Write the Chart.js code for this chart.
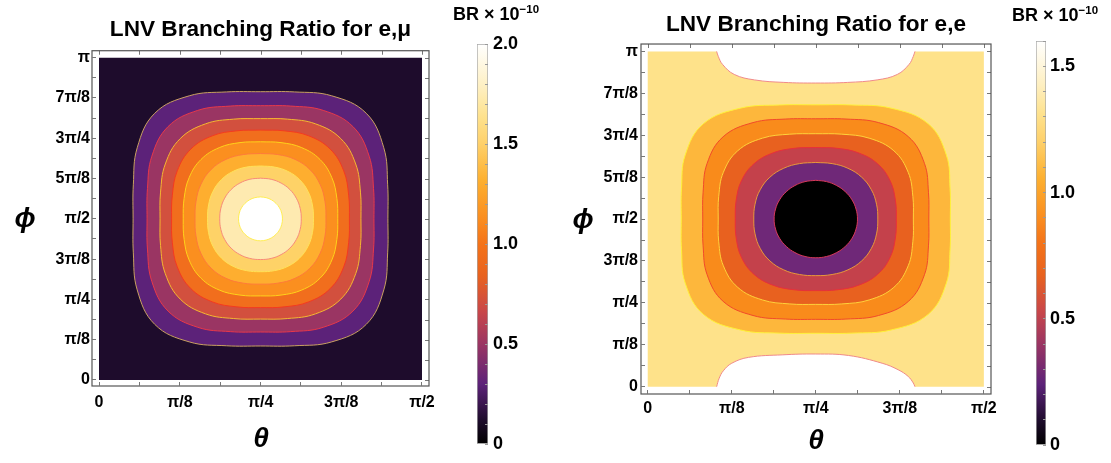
<!DOCTYPE html>
<html>
<head>
<meta charset="utf-8">
<script src="https://cdn.jsdelivr.net/npm/chart.js@4.4.1/dist/chart.umd.min.js"></script>
<style>
  body { margin: 0; background: #fff; }
  #page { position: relative; width: 1111px; height: 463px; overflow: hidden; font-family: "Liberation Sans", Arial, sans-serif; }
  canvas { position: absolute; }
  .txt { position: absolute; transform: translate(-50%, -50%); font-weight: bold; white-space: nowrap; color: #000; }
  .axis { font-size: 28px; font-style: italic; }
  .br { font-size: 18px; }
  .br sup { font-size: 11.5px; }
</style>
</head>
<body>
<div id="page">
  <canvas id="emu" width="450" height="463" style="left:0;top:0"></canvas>
  <canvas id="emuBar" width="88" height="463" style="left:440px;top:0"></canvas>
  <canvas id="ee" width="463" height="463" style="left:549px;top:0"></canvas>
  <canvas id="eeBar" width="86" height="463" style="left:1000px;top:0"></canvas>
  <div class="txt axis" style="left:261px;top:438px">θ</div>
  <div class="txt axis" style="left:25px;top:218px">ϕ</div>
  <div class="txt axis" style="left:816px;top:440px">θ</div>
  <div class="txt axis" style="left:583px;top:219px">ϕ</div>
  <div class="txt br" style="left:496px;top:14px">BR × 10<sup>−10</sup></div>
  <div class="txt br" style="left:1055px;top:15px">BR × 10<sup>−10</sup></div>
</div>
<script>
// axes: theta and phi in units of pi/8
thetaTicks = [0, 0.5, 1, 1.5, 2, 2.5, 3, 3.5, 4];
thetaLabels = ['0', '', 'π/8', '', 'π/4', '', '3π/8', '', 'π/2'];
phiTicks = [0, 0.5, 1, 1.5, 2, 2.5, 3, 3.5, 4, 4.5, 5, 5.5, 6, 6.5, 7, 7.5, 8];
phiLabels = ['0', '', 'π/8', '', 'π/4', '', '3π/8', '', 'π/2', '', '5π/8', '', '3π/4', '', '7π/8', '', 'π'];
domain = [[0, 0], [4, 0], [4, 8], [0, 8], [0, 0]];

// e,mu contours, outermost (BR = 0.2) to innermost (BR = 1.8), [theta, phi]
emu1 = [[2,7.156],[2.422,7.150],[2.882,7.054],[3.310,6.620],[3.527,5.764],[3.575,4.844],[3.578,4],[3.575,3.156],[3.527,2.236],[3.310,1.381],[2.882,0.946],[2.422,0.850],[2,0.844],[1.578,0.850],[1.118,0.946],[0.690,1.381],[0.473,2.236],[0.425,3.156],[0.422,4],[0.425,4.844],[0.473,5.764],[0.690,6.620],[1.118,7.054],[1.578,7.150]];
emu2 = [[2,6.809],[2.375,6.799],[2.777,6.692],[3.145,6.289],[3.346,5.554],[3.400,4.750],[3.405,4],[3.400,3.250],[3.346,2.446],[3.145,1.711],[2.777,1.308],[2.375,1.201],[2,1.191],[1.625,1.201],[1.223,1.308],[0.855,1.711],[0.654,2.446],[0.600,3.250],[0.595,4],[0.600,4.750],[0.654,5.554],[0.855,6.289],[1.223,6.692],[1.625,6.799]];
emu3 = [[2,6.488],[2.332,6.475],[2.681,6.358],[2.995,5.990],[3.179,5.362],[3.238,4.663],[3.244,4],[3.238,3.337],[3.179,2.638],[2.995,2.010],[2.681,1.642],[2.332,1.525],[2,1.512],[1.668,1.525],[1.319,1.642],[1.005,2.010],[0.821,2.638],[0.762,3.337],[0.756,4],[0.762,4.663],[0.821,5.362],[1.005,5.990],[1.319,6.358],[1.668,6.475]];
emu4 = [[2,6.203],[2.293,6.185],[2.595,6.062],[2.864,5.729],[3.031,5.191],[3.092,4.586],[3.101,4],[3.092,3.414],[3.031,2.809],[2.864,2.271],[2.595,1.938],[2.293,1.815],[2,1.797],[1.707,1.815],[1.405,1.938],[1.136,2.271],[0.969,2.809],[0.908,3.414],[0.899,4],[0.908,4.586],[0.969,5.191],[1.136,5.729],[1.405,6.062],[1.707,6.185]];
emu5 = [[2,5.913],[2.254,5.892],[2.511,5.767],[2.737,5.473],[2.884,5.021],[2.946,4.507],[2.957,4],[2.946,3.493],[2.884,2.979],[2.737,2.527],[2.511,2.233],[2.254,2.108],[2,2.087],[1.746,2.108],[1.489,2.233],[1.263,2.527],[1.116,2.979],[1.054,3.493],[1.043,4],[1.054,4.507],[1.116,5.021],[1.263,5.473],[1.489,5.767],[1.746,5.892]];
emu6 = [[2,5.621],[2.214,5.596],[2.427,5.477],[2.612,5.224],[2.739,4.853],[2.799,4.428],[2.811,4],[2.799,3.572],[2.739,3.147],[2.612,2.776],[2.427,2.523],[2.214,2.404],[2,2.379],[1.786,2.404],[1.573,2.523],[1.388,2.776],[1.261,3.147],[1.201,3.572],[1.189,4],[1.201,4.428],[1.261,4.853],[1.388,5.224],[1.573,5.477],[1.786,5.596]];
emu7 = [[2,5.312],[2.172,5.285],[2.340,5.177],[2.485,4.971],[2.589,4.680],[2.643,4.344],[2.656,4],[2.643,3.656],[2.589,3.320],[2.485,3.029],[2.340,2.823],[2.172,2.715],[2,2.688],[1.828,2.715],[1.660,2.823],[1.515,3.029],[1.411,3.320],[1.357,3.656],[1.344,4],[1.357,4.344],[1.411,4.680],[1.515,4.971],[1.660,5.177],[1.828,5.285]];
emu8 = [[2,5.010],[2.132,4.982],[2.256,4.887],[2.364,4.727],[2.444,4.512],[2.491,4.263],[2.505,4],[2.491,3.737],[2.444,3.488],[2.364,3.273],[2.256,3.113],[2.132,3.018],[2,2.990],[1.868,3.018],[1.744,3.113],[1.636,3.273],[1.556,3.488],[1.509,3.737],[1.495,4],[1.509,4.263],[1.556,4.512],[1.636,4.727],[1.744,4.887],[1.868,4.982]];
emu9 = [[2,4.545],[2.070,4.526],[2.136,4.472],[2.192,4.385],[2.236,4.273],[2.263,4.141],[2.272,4],[2.263,3.859],[2.236,3.727],[2.192,3.615],[2.136,3.528],[2.070,3.474],[2,3.455],[1.930,3.474],[1.864,3.528],[1.808,3.615],[1.764,3.727],[1.737,3.859],[1.728,4],[1.737,4.141],[1.764,4.273],[1.808,4.385],[1.864,4.472],[1.930,4.526]];

// e,e contours, outermost (BR = 1.2) to innermost (BR = 0.2)
ee1 = [[2,6.726],[2.428,6.722],[2.897,6.646],[3.337,6.276],[3.554,5.528],[3.598,4.729],[3.601,4],[3.598,3.271],[3.554,2.472],[3.337,1.724],[2.897,1.354],[2.428,1.278],[2,1.274],[1.572,1.278],[1.103,1.354],[0.663,1.724],[0.446,2.472],[0.402,3.271],[0.399,4],[0.402,4.729],[0.446,5.528],[0.663,6.276],[1.103,6.646],[1.572,6.722]];
ee2 = [[2,6.393],[2.359,6.386],[2.747,6.301],[3.103,5.962],[3.293,5.328],[3.341,4.639],[3.345,4],[3.341,3.361],[3.293,2.672],[3.103,2.038],[2.747,1.699],[2.359,1.614],[2,1.607],[1.641,1.614],[1.253,1.699],[0.897,2.038],[0.707,2.672],[0.659,3.361],[0.655,4],[0.659,4.639],[0.707,5.328],[0.897,5.962],[1.253,6.301],[1.641,6.386]];
ee3 = [[2,6.036],[2.309,6.025],[2.635,5.930],[2.929,5.629],[3.100,5.114],[3.155,4.543],[3.161,4],[3.155,3.457],[3.100,2.886],[2.929,2.371],[2.635,2.070],[2.309,1.975],[2,1.964],[1.691,1.975],[1.365,2.070],[1.071,2.371],[0.900,2.886],[0.845,3.457],[0.839,4],[0.845,4.543],[0.900,5.114],[1.071,5.629],[1.365,5.930],[1.691,6.025]];
ee4 = [[2,5.707],[2.254,5.688],[2.511,5.577],[2.738,5.314],[2.885,4.911],[2.947,4.452],[2.958,4],[2.947,3.548],[2.885,3.089],[2.738,2.686],[2.511,2.423],[2.254,2.312],[2,2.293],[1.746,2.312],[1.489,2.423],[1.262,2.686],[1.115,3.089],[1.053,3.548],[1.042,4],[1.053,4.452],[1.115,4.911],[1.262,5.314],[1.489,5.577],[1.746,5.688]];
ee5 = [[2,5.350],[2.194,5.323],[2.382,5.212],[2.546,4.999],[2.662,4.699],[2.723,4.354],[2.738,4],[2.723,3.646],[2.662,3.301],[2.546,3.001],[2.382,2.788],[2.194,2.677],[2,2.650],[1.806,2.677],[1.618,2.788],[1.454,3.001],[1.338,3.301],[1.277,3.646],[1.262,4],[1.277,4.354],[1.338,4.699],[1.454,4.999],[1.618,5.212],[1.806,5.323]];
ee6 = [[2,4.924],[2.128,4.893],[2.248,4.800],[2.351,4.653],[2.430,4.462],[2.479,4.239],[2.496,4],[2.479,3.761],[2.430,3.538],[2.351,3.347],[2.248,3.200],[2.128,3.107],[2,3.076],[1.872,3.107],[1.752,3.200],[1.649,3.347],[1.570,3.538],[1.521,3.761],[1.504,4],[1.521,4.239],[1.570,4.462],[1.649,4.653],[1.752,4.800],[1.872,4.893]];
// BR = 1.4 caps touching phi = pi and phi = 0
eeTopCap = [[0.82,8],[0.84,7.88],[0.89,7.69],[1.03,7.45],[1.27,7.32],[1.62,7.26],[2,7.245],[2.38,7.26],[2.73,7.32],[2.97,7.45],[3.11,7.69],[3.16,7.88],[3.18,8]];
eeBottomCap = [[0.82,0],[0.85,0.2],[0.90,0.38],[1.0,0.56],[1.2,0.70],[1.6,0.76],[2,0.78],[2.39,0.745],[2.79,0.56],[2.98,0.405],[3.10,0.245],[3.16,0.09],[3.18,0]];

// colour bars
emuBarTicks = [0,0.1,0.2,0.3,0.4,0.5,0.6,0.7,0.8,0.9,1,1.1,1.2,1.3,1.4,1.5,1.6,1.7,1.8,1.9,2];
emuBarMajor = [0, 0.5, 1, 1.5, 2];
emuBarLabels = ['0', '0.5', '1.0', '1.5', '2.0'];
eeBarTicks = [0,0.1,0.2,0.3,0.4,0.5,0.6,0.7,0.8,0.9,1,1.1,1.2,1.3,1.4,1.5,1.6];
eeBarMajor = [0, 0.5, 1, 1.5];
eeBarLabels = ['0', '0.5', '1.0', '1.5'];

// styles
emuFills = ['#5c2279', '#9a3563', '#d2503e', '#f16e1d', '#fb8f1f', '#feae2f', '#fed267', '#feeab0', '#ffffff'];
emuLines = ['#c8a060', '#e8384a', '#f5b830', '#f43a20', '#ffd21a', '#ff7a3a', '#ffe25a', '#f88a7a', '#ffee55'];
eeFills = ['#fdb73c', '#f98b1b', '#e8611f', '#c4414b', '#6f2878', '#000000'];
eeLines = ['#fff23a', '#f24a2a', '#ffd23a', '#e8303a', '#e8983a', '#d83a5a'];
sunsetStops = [[0, '#000000'], [0.06, '#1e0c2c'], [0.15, '#5c2279'], [0.25, '#9a3563'], [0.33, '#c8464a'], [0.42, '#e8621f'],
  [0.5, '#f47319'], [0.56, '#fa8c1f'], [0.66, '#fdb030'], [0.75, '#fed06a'], [0.82, '#fee28e'], [0.89, '#feefc0'], [1, '#ffffff']];
fontFamily = '"Liberation Sans", Arial, sans-serif';

framePlugin = {
    id: 'frame',
    afterDatasetsDraw(chart) {
        var ctx = chart.ctx, a = chart.chartArea, sx = chart.scales.x, sy = chart.scales.y;
        ctx.save();
        ctx.strokeStyle = '#777';
        ctx.lineWidth = 1;
        thetaTicks.forEach(v => {
            var x = Math.round(sx.getPixelForValue(v)) + 0.5;
            ctx.beginPath(); ctx.moveTo(x, a.top); ctx.lineTo(x, a.top + 4); ctx.stroke();
        });
        phiTicks.forEach(v => {
            var y = Math.round(sy.getPixelForValue(v)) + 0.5;
            ctx.beginPath(); ctx.moveTo(a.right, y); ctx.lineTo(a.right - 4, y); ctx.stroke();
        });
        ctx.strokeStyle = '#555';
        ctx.lineWidth = 1.2;
        ctx.strokeRect(a.left, a.top, a.right - a.left, a.bottom - a.top);
        ctx.restore();
    }
};

drawContourPlot('emu', 'LNV Branching Ratio for e,μ', [emu1, emu2, emu3, emu4, emu5, emu6, emu7, emu8, emu9], emuFills, emuLines, '#1e0c2c', [], {
  xMin: -0.087, xMax: 4.087, yMin: -0.149, yMax: 8.173, xAxisHeight: 77, titlePad: {top: 16, bottom: 7.6}, xPad: 11, yPad: 6
});
drawContourPlot('ee', 'LNV Branching Ratio for e,e', [ee1, ee2, ee3, ee4, ee5, ee6], eeFills, eeLines, '#fee28a',
  [{curve: eeTopCap, edge: 8.1}, {curve: eeBottomCap, edge: -0.1}], {
  xMin: -0.08, xMax: 4.085, yMin: -0.174, yMax: 8.176, xAxisHeight: 69, titlePad: {top: 11.5, bottom: 5.4}, xPad: 9, yPad: 7
});
drawColorBar('emuBar', 2, emuBarTicks, emuBarMajor, emuBarLabels, {left: 37, top: 44, bottom: 11}, 8);
drawColorBar('eeBar', 1.6, eeBarTicks, eeBarMajor, eeBarLabels, {left: 36, top: 41, bottom: 11}, 7);

function toXY(points) {
    return points.map(p => ({x: p[0], y: p[1]}));
}

function shapeDataset(points, fill, line, tension, order) {
    return {
        data: toXY(points),
        backgroundColor: fill || 'rgba(0,0,0,0)',
        borderColor: line || 'rgba(0,0,0,0)',
        borderWidth: 1,
        fill: fill ? 'shape' : false,
        tension: tension,
        pointRadius: 0,
        order: order
    };
}

function frameAxis(position, min, max, values, labels, pad, size) {
    var horizontal = position === 'bottom';
    return {
        type: 'linear',
        position: position,
        min: min,
        max: max,
        afterBuildTicks: s => { s.ticks = values.map(v => ({value: v})); },
        afterFit: s => { if (horizontal) s.height = size; else s.width = size; },
        ticks: {
            autoSkip: false,
            maxRotation: 0,
            padding: pad,
            color: '#000',
            font: {family: fontFamily, size: 16, weight: 'bold'},
            callback: (v, i) => labels[i]
        },
        grid: {drawOnChartArea: false, tickLength: -4, color: '#777', z: 1},
        border: {display: false}
    };
}

function drawContourPlot(id, title, bands, fills, lines, background, caps, cfg) {
    var datasets = [shapeDataset(domain, background, null, 0, 100)];
    caps.forEach(cap => {
        var last = cap.curve[cap.curve.length - 1];
        var outline = cap.curve.concat([[last[0], cap.edge], [cap.curve[0][0], cap.edge]]);
        datasets.push(shapeDataset(outline, '#ffffff', null, 0.4, 96));
        datasets.push(shapeDataset(cap.curve, null, '#f08a8a', 0.4, 95));
    });
    bands.forEach((band, k) => {
        datasets.push(shapeDataset(band.concat([band[0]]), fills[k], lines[k], 0.4, 90 - k));
    });
    return new Chart(document.getElementById(id), {
        type: 'line',
        data: {datasets: datasets},
        plugins: [framePlugin],
        options: {
            responsive: false,
            animation: false,
            events: [],
            layout: {padding: {left: 0, right: 21, top: 0, bottom: 0}},
            scales: {
                x: frameAxis('bottom', cfg.xMin, cfg.xMax, thetaTicks, thetaLabels, cfg.xPad, cfg.xAxisHeight),
                y: frameAxis('left', cfg.yMin, cfg.yMax, phiTicks, phiLabels, cfg.yPad, 92)
            },
            plugins: {
                legend: {display: false},
                tooltip: {enabled: false},
                title: {
                    display: true,
                    text: title,
                    fullSize: false,
                    color: '#000',
                    font: {family: fontFamily, size: 22.6, weight: 'bold', lineHeight: 1.2},
                    padding: cfg.titlePad
                }
            }
        }
    });
}

function drawColorBar(id, max, ticks, majors, labels, pad, labelPad) {
    return new Chart(document.getElementById(id), {
        type: 'bar',
        data: {
            labels: ['BR'],
            datasets: [{
                data: [max],
                barPercentage: 1,
                categoryPercentage: 1,
                borderSkipped: false,
                borderWidth: 1,
                borderColor: '#a8a8a8',
                backgroundColor: ctx => {
                    var area = ctx.chart.chartArea;
                    if (!area) return '#000';
                    var g = ctx.chart.ctx.createLinearGradient(0, area.bottom, 0, area.top);
                    sunsetStops.forEach(s => g.addColorStop(s[0], s[1]));
                    return g;
                }
            }]
        },
        options: {
            responsive: false,
            animation: false,
            events: [],
            layout: {padding: {left: pad.left, right: 0, top: pad.top, bottom: pad.bottom}},
            scales: {
                x: {display: false},
                y: {
                    position: 'right',
                    min: 0,
                    max: max,
                    afterBuildTicks: s => { s.ticks = ticks.map(v => ({value: v})); },
                    afterFit: s => { s.width = 40; },
                    ticks: {
                        autoSkip: false,
                        padding: labelPad,
                        color: '#000',
                        font: {family: fontFamily, size: 18, weight: 'bold'},
                        callback: v => {
                            var i = majors.indexOf(v);
                            return i >= 0 ? labels[i] : '';
                        }
                    },
                    grid: {drawOnChartArea: false, tickLength: -3, color: '#9a9a9a', z: 1},
                    border: {display: false}
                }
            },
            plugins: {legend: {display: false}, tooltip: {enabled: false}}
        }
    });
}
</script>
</body>
</html>
